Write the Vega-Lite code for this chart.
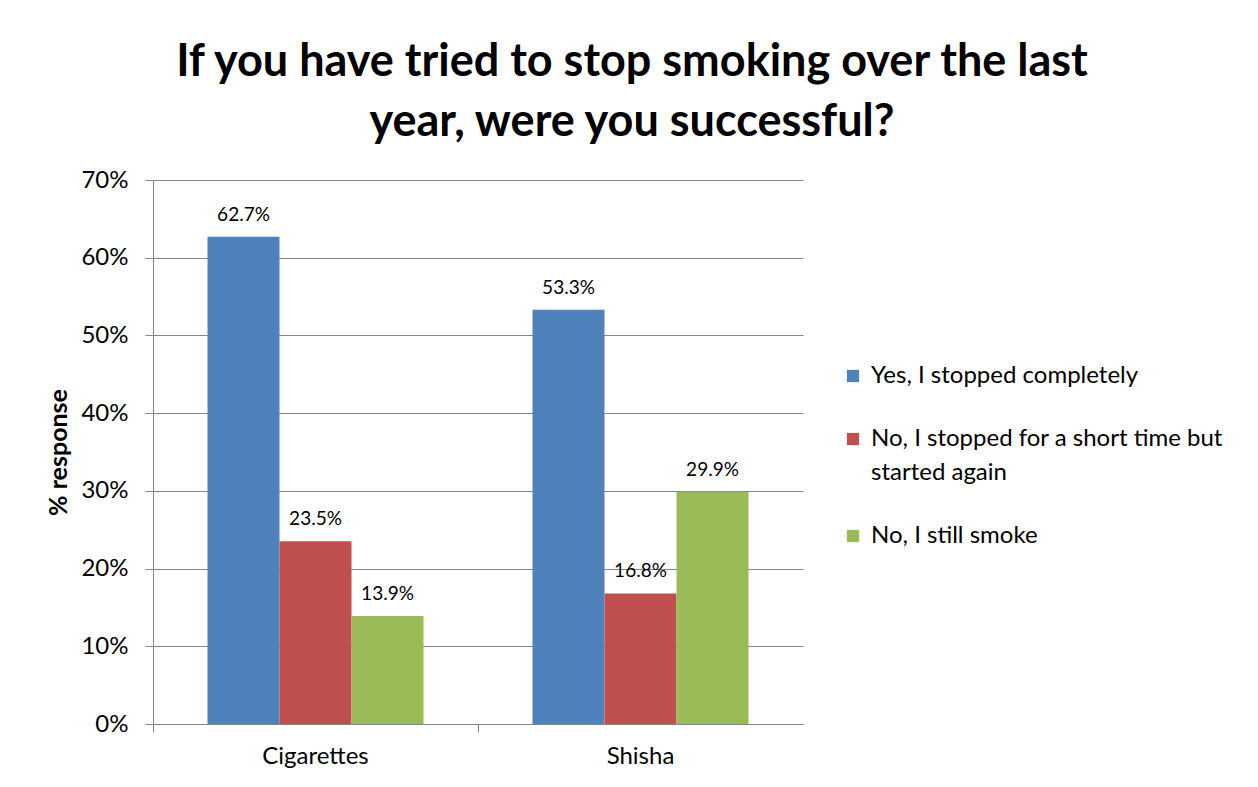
{
  "$schema": "https://vega.github.io/schema/vega-lite/v6.json",
  "autosize": "none",
  "width": 650,
  "height": 544,
  "padding": {"left": 153, "top": 180, "right": 455, "bottom": 63},
  "background": "white",
  "title": {
    "text": ["If you have tried to stop smoking over the last", "year, were you successful?"],
    "font": "Lato",
    "fontSize": 45,
    "fontWeight": "bold",
    "color": "#000000",
    "anchor": "middle",
    "frame": "group",
    "dx": 154,
    "offset": 23,
    "lineHeight": 60
  },
  "data": {
    "values": [
      {"product": "Cigarettes", "answer": "Yes, I stopped completely", "value": 0.627},
      {"product": "Cigarettes", "answer": "No, I stopped for a short time but started again", "value": 0.235},
      {"product": "Cigarettes", "answer": "No, I still smoke", "value": 0.139},
      {"product": "Shisha", "answer": "Yes, I stopped completely", "value": 0.533},
      {"product": "Shisha", "answer": "No, I stopped for a short time but started again", "value": 0.168},
      {"product": "Shisha", "answer": "No, I still smoke", "value": 0.299}
    ]
  },
  "encoding": {
    "x": {
      "field": "product",
      "type": "nominal",
      "sort": ["Cigarettes", "Shisha"],
      "scale": {"paddingInner": 0, "paddingOuter": 0},
      "axis": {
        "title": null,
        "labelAngle": 0,
        "labelFont": "Lato",
        "labelFontSize": 24,
        "labelColor": "#000000",
        "labelPadding": 12,
        "domainColor": "#868686",
        "tickColor": "#868686",
        "tickSize": 8,
        "bandPosition": 0,
        "grid": false
      }
    },
    "xOffset": {
      "field": "answer",
      "type": "nominal",
      "sort": ["Yes, I stopped completely", "No, I stopped for a short time but started again", "No, I still smoke"],
      "scale": {"paddingInner": 0, "paddingOuter": 0.757}
    },
    "y": {
      "field": "value",
      "type": "quantitative",
      "scale": {"domain": [0, 0.7], "nice": false},
      "axis": {
        "title": "% response",
        "titleFont": "Lato",
        "titleFontSize": 25,
        "titleFontWeight": "bold",
        "titleColor": "#000000",
        "titlePadding": 9,
        "format": ".0%",
        "values": [0, 0.1, 0.2, 0.3, 0.4, 0.5, 0.6, 0.7],
        "labelFont": "Lato",
        "labelFontSize": 24,
        "labelColor": "#000000",
        "labelPadding": 17,
        "tickSize": 8,
        "tickColor": "#868686",
        "domainColor": "#868686",
        "gridColor": "#868686",
        "grid": true
      }
    }
  },
  "layer": [
    {
      "mark": {"type": "bar"},
      "encoding": {
        "color": {
          "field": "answer",
          "type": "nominal",
          "sort": ["Yes, I stopped completely", "No, I stopped for a short time but started again", "No, I still smoke"],
          "scale": {"range": ["#4F81BD", "#C0504D", "#9BBB59"]},
          "legend": {
            "title": null,
            "orient": "none",
            "legendX": 688,
            "legendY": 184,
            "direction": "vertical",
            "symbolType": "square",
            "symbolSize": 150,
            "symbolStrokeWidth": 0,
            "labelFont": "Lato",
            "labelFontSize": 24,
            "labelColor": "#000000",
            "labelOffset": 6,
            "labelLimit": 420,
            "rowPadding": 39,
            "labelExpr": "datum.label == 'No, I stopped for a short time but started again' ? ['No, I stopped for a short time but', 'started again'] : datum.label",
            "encode": {"labels": {"update": {"lineHeight": {"value": 34}}}}
          }
        }
      }
    },
    {
      "mark": {"type": "text", "baseline": "bottom", "dy": -12, "font": "Lato", "fontSize": 19, "color": "#000000"},
      "encoding": {
        "text": {"field": "value", "type": "quantitative", "format": ".1%"}
      }
    }
  ],
  "config": {
    "view": {"stroke": null}
  }
}
